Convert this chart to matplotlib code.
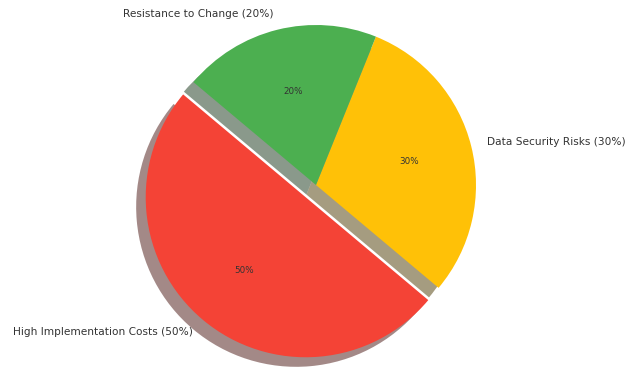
import matplotlib
matplotlib.use("Agg")
import matplotlib.pyplot as plt

labels = ["High Implementation Costs (50%)", "Data Security Risks (30%)", "Resistance to Change (20%)"]
sizes = [50, 30, 20]
colors = ["#F44336", "#FFC107", "#4CAF50"]
explode = [0.1, 0, 0]

W, H, DPI = 627, 369, 100
fig = plt.figure(figsize=(W / DPI, H / DPI), dpi=DPI)
ax = fig.add_axes([0, 0, 1, 1])

wedges, texts, autotexts = ax.pie(
    sizes, labels=labels, colors=colors, explode=explode,
    autopct="%1.0f%%", startangle=140, labeldistance=1.1, pctdistance=0.6,
    shadow={"ox": -0.043, "oy": -0.043, "linewidth": 0},
    textprops={"fontsize": 7.6, "color": "#333333"},
)
for t in autotexts:
    t.set_fontsize(6.3)
    t.set_color("#333333")

R = 160.0
cx, cy = 316.0, 185.0
ax.set_xlim(-cx / R, (W - cx) / R)
ax.set_ylim(-(H - cy) / R, cy / R)
ax.set_aspect("auto")
ax.axis("off")

fig.savefig("out.png", dpi=DPI)
